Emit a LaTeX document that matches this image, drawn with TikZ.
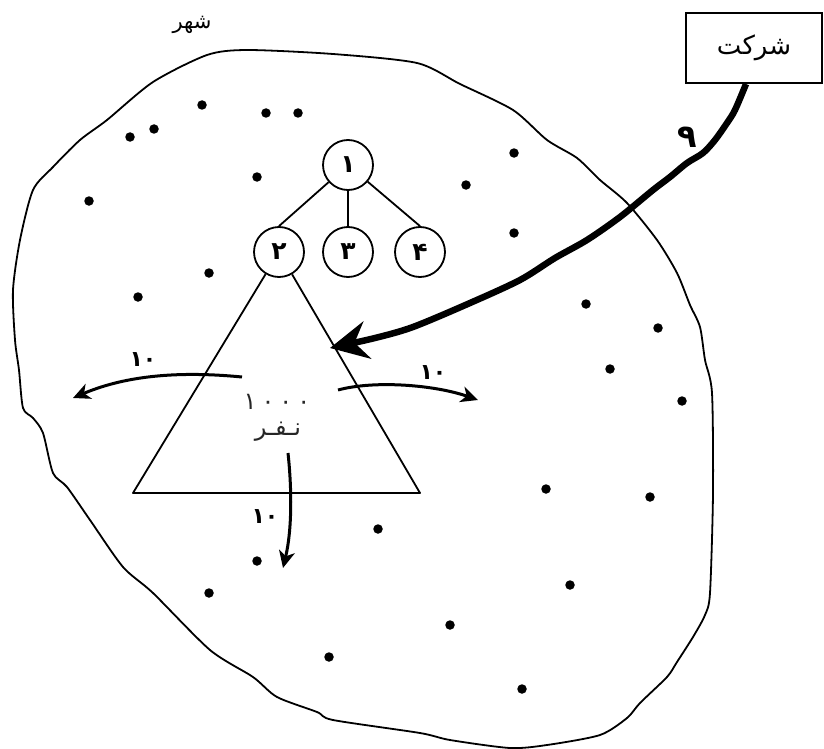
\documentclass[tikz,border=0pt]{standalone}
\usepackage{fontspec}
\setmainfont{DejaVu Sans}
\newfontfamily\arabicfont[Script=Arabic]{DejaVu Sans}
\TeXXeTstate=1
\usetikzlibrary{arrows.meta}
\begin{document}
\begin{tikzpicture}[x=1pt,y=-1pt,
  person/.style={circle,draw,line width=1.8pt,minimum size=50pt,inner sep=0pt,
    font=\arabicfont\fontsize{25}{27}\selectfont\bfseries},
  house/.style={circle,fill,inner sep=0pt,minimum size=9.5pt},
  flow/.style={line width=3pt,-{Stealth[length=17pt,width=16pt,inset=5pt]}},
  lab/.style={font=\arabicfont\fontsize{22}{24}\selectfont\bfseries,inner sep=0pt},
  txt/.style={font=\arabicfont\fontsize{24}{26}\selectfont,inner sep=0pt},
  edge/.style={line width=1.8pt}
]
\useasboundingbox (0,0) rectangle (824,749);

% city outline
\draw[line width=1.8pt,line join=round] plot[smooth cycle,tension=0.45] coordinates {
 (247,50) (333,54) (417,63) (460,84) (513,110) (547,140) (577,158) (600,180)
 (627,203) (657,240) (677,273) (690,305) (700,327) (705,360) (712,393)
 (713,493) (710,593) (705,615) (693,637) (677,662) (667,677) (640,703)
 (627,718) (600,735) (547,745) (510,748) (450,740) (420,733) (333,720)
 (317,712) (277,697) (253,677) (210,650) (153,593) (123,567) (90,520)
 (67,487) (53,473) (43,433) (33,418) (23,408) (19,370) (15,340) (13,290)
 (20,240) (33,190) (53,167) (80,140) (107,120) (153,82) (207,55)};

% houses
\foreach \i/\p in {1/{(202,105)},2/{(266,113)},3/{(298,113)},4/{(130,137)},5/{(154,129)},
  6/{(257,177)},7/{(89,201)},8/{(209,273)},9/{(138,297)},10/{(514,153)},11/{(466,185)},
  12/{(514,233)},13/{(586,304)},14/{(658,328)},15/{(610,369)},16/{(682,401)},
  17/{(546,489)},18/{(650,497)},19/{(570,585)},20/{(450,625)},21/{(522,689)},
  22/{(378,529)},23/{(257,561)},24/{(209,593)},25/{(329,657)}}
  \node[house] (d\i) at \p {};

% labels
\node[font=\arabicfont\fontsize{21}{23}\selectfont,inner sep=0pt] (city) at (192,25) {\beginR شهر\endR};
\node[draw,line width=2pt,minimum width=136pt,minimum height=70pt,
  font=\arabicfont\fontsize{26}{28}\selectfont] (co) at (754,48) {\beginR شرکت\endR};

% tree
\node[person] (n1) at (348,165) {۱};
\node[person] (n2) at (279,252) {۲};
\node[person] (n3) at (348,252) {۳};
\node[person] (n4) at (420,252) {۴};
\draw[edge] (n1) -- (n2.north);
\draw[edge] (n1) -- (n3);
\draw[edge] (n1) -- (n4.north);

% triangle
\coordinate (bl) at (133,493);
\coordinate (br) at (420,493);
\draw[edge,line join=round] (n2) -- (bl) -- (br) -- (n2);
\node[txt,text=black!85] (pop) at (277,402) {۱\hspace{5pt}۰\hspace{5pt}۰\hspace{5pt}۰};
\node[txt,text=black!85] (nafar) at (278,432) {\beginR نـفـر\endR};

% outflows
\coordinate (l0) at (242,377); \coordinate (l1) at (73,398);
\draw[flow] (l0) .. controls (170,370) and (120,378) .. (l1);
\node[lab] (ll) at (143,360) {۱۰};
\coordinate (r0) at (338,390); \coordinate (r1) at (478,400);
\draw[flow] (r0) .. controls (375,380) and (435,385) .. (r1);
\node[lab] (lr) at (433,373) {۱۰};
\coordinate (b0) at (288,453); \coordinate (b1) at (283,568);
\draw[flow] (b0) .. controls (292,490) and (292,530) .. (b1);
\node[lab] (lb) at (265,517) {۱۰};

% company arrow
\coordinate (t1) at (330,348);
\draw[line width=6.5pt,line join=round,
  -{Stealth[length=38pt,width=38pt,inset=13pt]}]
  plot[smooth,tension=0.5] coordinates {([xshift=-8pt]co.south) (735,110) (727,123)
  (715,140) (703,153) (687,163) (670,177) (653,190) (620,217) (587,240)
  (555,258) (520,280) (470,303) (413,327) (375,338) (t1)};
\node[font=\arabicfont\fontsize{32}{34}\selectfont\bfseries,inner sep=0pt] (k) at (687,137) {۹};
\end{tikzpicture}
\end{document}
